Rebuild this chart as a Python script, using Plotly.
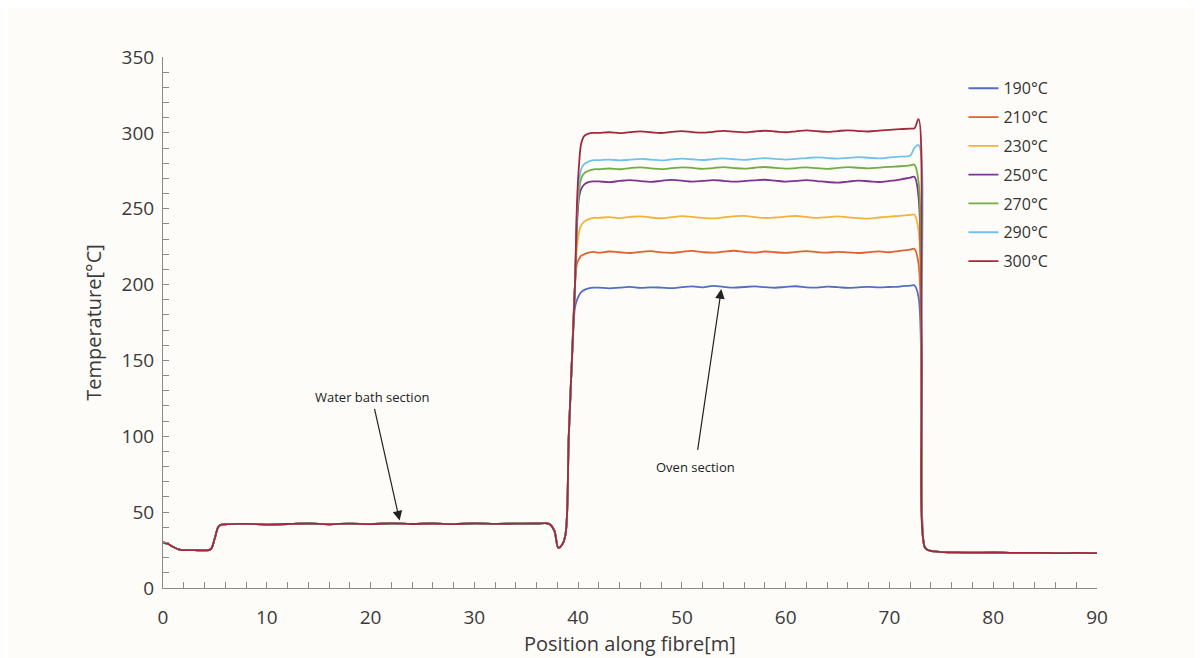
import plotly.graph_objects as go

# ---------------- data ----------------
series_names = ["190\u00b0C", "210\u00b0C", "230\u00b0C", "250\u00b0C", "270\u00b0C", "290\u00b0C", "300\u00b0C"]
series_colors = ["#4f6fc0", "#e0622d", "#efb43a", "#7e358f", "#72ad42", "#70c2ea", "#a3283a"]

# shared section before the oven (start, water bath, dip, beginning of rise)
x_pre = [0, 0.5, 1, 1.5, 2, 3, 4, 4.6, 5.0, 5.4, 6, 8, 10, 12, 14, 16, 18, 20, 22, 24,
         26, 28, 30, 32, 34, 36, 37.2, 37.7, 38.1, 38.5, 38.8, 39.1, 39.4]
t_pre = [30, 29, 27, 25.5, 25, 25, 24.8, 25.5, 33, 41, 42, 42.3, 41.8, 42.2, 42.5, 42, 42.4, 42.1, 42.6, 42.2,
         42.5, 42.1, 42.6, 42.3, 42.4, 42.5, 42.3, 38, 26.5, 29, 36, 100, 150]

# oven section, one list per series
x_oven = [39.7, 39.9, 40.1, 40.3, 40.6, 41.0, 41.5,
          42, 43, 44, 45, 46, 47, 48, 49, 50, 51, 52, 53, 54, 55, 56, 57, 58, 59, 60, 61,
          62, 63, 64, 65, 66, 67, 68, 69, 70, 71, 72,
          72.4, 72.8, 73.1]
t_oven_190 = [185, 190, 193, 195, 196.5, 197.5, 198,
              198, 197.5, 198, 198.5, 197.8, 198.2, 198, 197.6, 198.3, 198.8, 198.2, 199.2, 198.5, 198, 198.4, 198.8,
              198.3, 197.9, 198.5, 198.9, 198.2, 198, 198.6, 198.3, 197.8, 198.2, 198.5, 198.1, 198.4, 198.7, 199.3,
              199.5, 192, 105]
t_oven_210 = [200, 214, 217, 219, 220, 221, 221.5,
              221, 221.8, 221.3, 220.8, 221.5, 222, 221.2, 220.9, 221.6, 222.2, 221.4, 221, 221.7, 222.3, 221.5, 221.1,
              221.8, 221.3, 220.9, 221.5, 222, 221.4, 221, 221.6, 221.2, 220.8, 221.4, 221.9, 221.3, 222.2, 223,
              223.5, 214, 120]
t_oven_230 = [200, 225, 235, 239, 241.5, 243, 244,
              244, 244.5, 243.8, 244.6, 245, 244.2, 243.7, 244.4, 245.1, 244.6, 244, 243.6, 244.3, 245, 245.3, 244.5,
              243.9, 244.2, 244.8, 245.2, 244.6, 244, 244.4, 244.9, 244.3, 243.8, 243.5, 244.2, 244.8, 245.3, 246,
              246, 236, 130]
t_oven_250 = [200, 240, 258, 263, 266, 267.5, 268,
              268, 267.5, 268.3, 268.8, 268.2, 267.7, 268.4, 269, 268.5, 267.9, 268.3, 268.9, 268.4, 267.8, 268.2, 268.7,
              269.1, 268.5, 267.9, 268.3, 268.8, 268.2, 267.6, 267.2, 267.9, 268.5, 268.1, 267.6, 268.3, 269.2, 270.5,
              271, 258, 140]
t_oven_270 = [200, 245, 262, 270, 273.5, 275, 276,
              276, 276.5, 276, 276.8, 277.2, 276.6, 276.1, 276.7, 277.3, 276.9, 276.3, 276.8, 277.4, 276.8, 276.4, 277,
              277.5, 276.9, 276.4, 276.8, 277.3, 276.7, 276.3, 276.9, 277.4, 277, 276.6, 277.1, 277.6, 278, 278.6,
              279, 268, 145]
t_oven_290 = [200, 250, 268, 276, 279.5, 281, 282,
              282, 282.4, 281.8, 282.3, 282.9, 282.4, 281.9, 282.5, 283, 282.6, 282.1, 282.7, 283.2, 282.6, 282.2, 282.8,
              283.3, 282.9, 282.4, 282.8, 283.4, 283.9, 283.4, 283, 283.5, 284, 283.6, 283.2, 283.8, 284.3, 285,
              290, 292, 155]
t_oven_300 = [200, 255, 280, 293, 298, 299.5, 300,
              300, 300.4, 299.8, 300.5, 301, 300.4, 299.9, 300.6, 301.1, 300.5, 300.1, 300.7, 301.3, 300.8, 300.3, 300.9,
              301.4, 300.9, 300.4, 301, 301.6, 301.1, 300.6, 301.2, 301.7, 301.2, 300.9, 301.5, 302, 302.4, 302.8,
              303, 309, 165]
t_oven = [t_oven_190, t_oven_210, t_oven_230, t_oven_250, t_oven_270, t_oven_290, t_oven_300]

# shared section after the oven
x_post = [73.4, 73.7, 74.1, 74.6, 75.2, 76, 78, 80, 82, 84, 86, 88, 90]
t_post = [27, 25, 24.3, 24, 23.6, 23.5, 23.3, 23.4, 23.1, 23.2, 23, 23.1, 23]

x_ticks = [0, 10, 20, 30, 40, 50, 60, 70, 80, 90]
y_ticks = [0, 50, 100, 150, 200, 250, 300, 350]

# ---------------- figure ----------------
fig = go.Figure()
x_all = x_pre + x_oven + x_post
for name, color, tov in zip(series_names, series_colors, t_oven):
    fig.add_trace(go.Scatter(
        x=x_all, y=t_pre + tov + t_post, mode="lines", name=name, legendgroup=name,
        line=dict(color=color, width=1.8), line_shape="spline",
    ))

axis_font = dict(family="Open Sans, Noto Sans, sans-serif", size=19, color="#3a3a3a")
fig.update_layout(
    width=1195, height=650,
    margin=dict(l=155, r=106, t=49, b=70),
    paper_bgcolor="#fdfcf8", plot_bgcolor="#fdfcf8",
    font=dict(family="Open Sans, Noto Sans, sans-serif", color="#333333"),
    showlegend=True,
    legend=dict(x=0.857, y=0.973, xanchor="left", yanchor="top",
                bgcolor="rgba(0,0,0,0)", font=dict(size=16, color="#333333"),
                itemwidth=30, tracegroupgap=5),
)
fig.update_xaxes(
    range=[0, 90], tickvals=x_ticks, ticktext=[str(v) for v in x_ticks],
    showgrid=False, zeroline=False, showline=True, linecolor="#8a8a8a", linewidth=1,
    ticks="inside", ticklen=6, tickcolor="#8a8a8a", ticklabelstandoff=12,
    minor=dict(dtick=2, ticks="inside", ticklen=6, tickcolor="#8a8a8a"),
    tickfont=axis_font, automargin=False,
)
fig.update_yaxes(
    range=[0, 350], tickvals=y_ticks, ticktext=[str(v) for v in y_ticks],
    showgrid=False, zeroline=False, showline=True, linecolor="#8a8a8a", linewidth=1,
    ticks="inside", ticklen=6, tickcolor="#8a8a8a", ticklabelstandoff=4,
    minor=dict(dtick=10, ticks="inside", ticklen=6, tickcolor="#8a8a8a"),
    tickfont=axis_font, automargin=False,
    title=dict(text="Temperature[\u00b0C]", font=dict(size=20, color="#3a3a3a"), standoff=14),
)

# x-axis title placed below the plot
fig.add_annotation(x=0.5, y=0, xref="paper", yref="paper", yshift=-55, yanchor="middle",
                   text="Position along fibre[m]", showarrow=False,
                   font=dict(size=20, color="#3a3a3a"))

# annotations
ann_font = dict(family="Open Sans, Noto Sans, sans-serif", size=13, color="#222222")
fig.add_annotation(x=20.1, y=126, text="Water bath section", showarrow=False, font=ann_font)
fig.add_annotation(x=22.8, y=44.5, ax=20.35, ay=119, xref="x", yref="y", axref="x", ayref="y",
                   text="", showarrow=True, arrowhead=2, arrowsize=1.6, arrowwidth=1.2, arrowcolor="#222222")
fig.add_annotation(x=51.3, y=80, text="Oven section", showarrow=False, font=ann_font)
fig.add_annotation(x=53.8, y=197, ax=51.5, ay=90, xref="x", yref="y", axref="x", ayref="y",
                   text="", showarrow=True, arrowhead=2, arrowsize=1.6, arrowwidth=1.2, arrowcolor="#222222")

fig.write_html("out.html")
